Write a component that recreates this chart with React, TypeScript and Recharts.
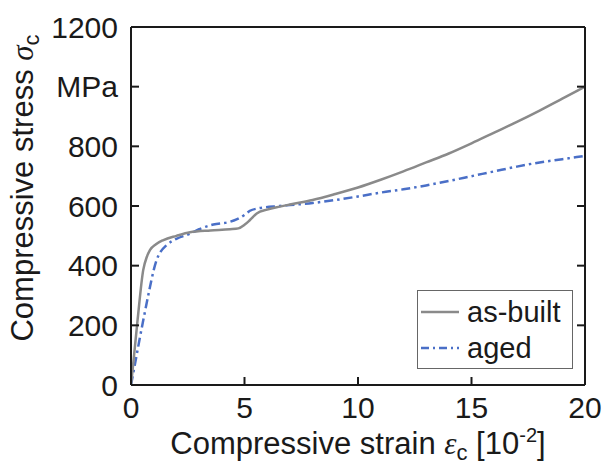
import React from "react";
import { LineChart, Line, XAxis, YAxis, Legend, Label } from "recharts";

// strain in 10^-2, stress in MPa
const asBuiltStrain = [0, 0.07, 0.29, 0.54, 0.7, 0.84, 1.1, 1.43, 2, 2.6, 3.5, 4.36, 4.73, 5.0, 5.24, 5.54, 6, 6.56, 7, 8, 9, 10, 11, 12, 13, 14, 15, 16, 17, 18, 19, 20];
const asBuiltStress = [0, 50, 218, 386, 430, 453, 472, 486, 500, 512, 518, 522, 525, 537, 553, 575, 588, 598, 605, 620, 640, 662, 688, 716, 746, 776, 810, 846, 882, 920, 960, 1000];

const agedStrain = [0, 0.2, 0.4, 0.6, 0.84, 1.0, 1.13, 1.3, 1.57, 2, 2.6, 3, 3.63, 4.36, 4.65, 5.0, 5.24, 5.6, 6.56, 7, 8, 9, 10, 11, 12, 13, 14, 15, 16, 17, 18, 19, 20];
const agedStress = [0, 80, 162, 240, 330, 385, 419, 446, 469, 490, 507, 522, 538, 547, 555, 570, 584, 592, 600, 603, 610, 620, 632, 645, 656, 669, 684, 700, 716, 732, 746, 757, 768];

const xTicks = [0, 5, 10, 15, 20];
const yTicks = [0, 200, 400, 600, 800, 1000, 1200];

const asBuilt = asBuiltStrain.map((x, i) => ({ x, y: asBuiltStress[i] }));
const aged = agedStrain.map((x, i) => ({ x, y: agedStress[i] }));

const FONT = "'Liberation Sans', Arial, sans-serif";
const SERIF = "'Liberation Serif', 'Times New Roman', serif";
const INK = "#1a1a1a";
const GRAY = "#8a8a8a";
const BLUE = "#4a6fc7";

const LegendBox = () => (
  <div
    style={{
      width: 156,
      height: 79,
      boxSizing: "border-box",
      border: "1.5px solid #666",
      background: "#fff",
      fontFamily: FONT,
      fontSize: 29,
      color: INK,
      position: "relative",
    }}
  >
    {[
      { name: "as-built", color: GRAY, dash: undefined, top: 4 },
      { name: "aged", color: BLUE, dash: "8 4 2 4", top: 40 },
    ].map((e) => (
      <div key={e.name} style={{ position: "absolute", left: 2, top: e.top, display: "flex", alignItems: "center", height: 34, whiteSpace: "nowrap" }}>
        <svg width={40} height={6} style={{ marginRight: 7 }}>
          <line x1={1} y1={3} x2={39} y2={3} stroke={e.color} strokeWidth={2.5} strokeDasharray={e.dash} />
        </svg>
        <span style={{ lineHeight: "34px" }}>{e.name}</span>
      </div>
    ))}
  </div>
);

const XTitle = () => (
  <text x={358} y={454} textAnchor="middle" fontFamily={FONT} fontSize={31} fill={INK}>
    Compressive strain{" "}
    <tspan fontFamily={SERIF} fontStyle="italic">ε</tspan>
    <tspan fontSize={22} dy={6} fontFamily={FONT}>c</tspan>
    <tspan dy={-6}> [10</tspan>
    <tspan fontSize={20} dy={-12}>-2</tspan>
    <tspan dy={12}>]</tspan>
  </text>
);

const YTitle = () => (
  <text transform="translate(33,188) rotate(-90)" textAnchor="middle" fontFamily={FONT} fontSize={31} fill={INK}>
    Compressive stress{" "}
    <tspan fontFamily={SERIF} fontStyle="italic">σ</tspan>
    <tspan fontSize={22} dy={6}>c</tspan>
  </text>
);

export default function App() {
  const axisLine = { stroke: INK, strokeWidth: 2 };
  const tickLine = { stroke: INK, strokeWidth: 2 };
  const tickStyle = { fill: INK, fontSize: 30, fontFamily: FONT };
  return (
    <div style={{ width: 606, height: 466, background: "#fff" }}>
      <style>{"body{margin:0}"}</style>
      <LineChart width={606} height={466} margin={{ top: 26, right: 20, bottom: 80, left: 130 }}>
        <XAxis
          xAxisId="b"
          dataKey="x"
          type="number"
          domain={[0, 20]}
          ticks={xTicks}
          height={1}
          tickSize={-8}
          tickMargin={20}
          axisLine={axisLine}
          tickLine={tickLine}
          tick={tickStyle}
          allowDataOverflow
        >
          <Label content={() => <XTitle />} />
        </XAxis>
        <XAxis
          xAxisId="t"
          orientation="top"
          type="number"
          domain={[0, 20]}
          ticks={xTicks}
          height={1}
          tickSize={-8}
          axisLine={axisLine}
          tickLine={tickLine}
          tickFormatter={() => ""}
          allowDataOverflow
        />
        <YAxis
          yAxisId="l"
          type="number"
          domain={[0, 1200]}
          ticks={yTicks}
          width={1}
          tickSize={-8}
          tickMargin={21}
          axisLine={axisLine}
          tickLine={tickLine}
          tick={tickStyle}
          tickFormatter={(v: number) => (v === 1000 ? "MPa" : String(v))}
          allowDataOverflow
        >
          <Label content={() => <YTitle />} />
        </YAxis>
        <YAxis
          yAxisId="r"
          orientation="right"
          type="number"
          domain={[0, 1200]}
          ticks={yTicks}
          width={1}
          tickSize={-8}
          axisLine={axisLine}
          tickLine={tickLine}
          tickFormatter={() => ""}
          allowDataOverflow
        />
        <Line
          xAxisId="b"
          yAxisId="l"
          data={aged}
          dataKey="y"
          name="aged"
          type="monotone"
          stroke={BLUE}
          strokeWidth={2.5}
          strokeDasharray="9 4 2.5 4"
          dot={false}
          isAnimationActive={false}
        />
        <Line
          xAxisId="b"
          yAxisId="l"
          data={asBuilt}
          dataKey="y"
          name="as-built"
          type="monotone"
          stroke={GRAY}
          strokeWidth={2.5}
          dot={false}
          isAnimationActive={false}
        />
        <Legend
          layout="vertical"
          align="center"
          verticalAlign="middle"
          content={() => <LegendBox />}
          wrapperStyle={{ left: 417, top: 290, width: 156, height: 79 }}
        />
      </LineChart>
    </div>
  );
}
